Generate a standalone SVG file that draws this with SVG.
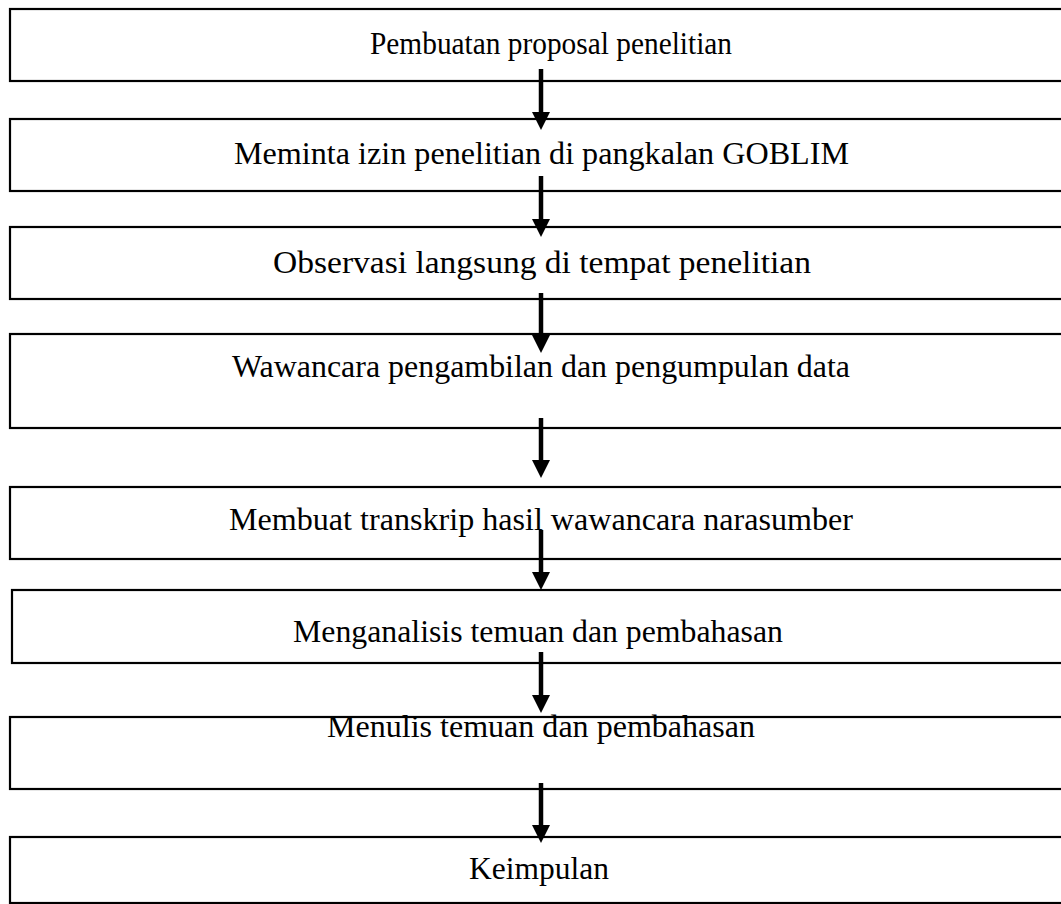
<svg xmlns="http://www.w3.org/2000/svg" width="1061" height="904" viewBox="0 0 1061 904">
<style>
.box{fill:#fff;stroke:#000;stroke-width:2.2}
.lbl{font-family:"Liberation Serif","Times New Roman",serif;font-size:32px;fill:#000;text-anchor:middle}
.arr{stroke:#000;stroke-width:4.5;fill:none}
.head{fill:#000}
</style>
<rect width="1061" height="904" fill="#fff"/>
<g id="n1"><rect class="box" x="10" y="9" width="1070" height="72"/><text class="lbl" x="551" y="54" textLength="362" lengthAdjust="spacingAndGlyphs">Pembuatan proposal penelitian</text></g>
<g id="n2"><rect class="box" x="10" y="119" width="1070" height="72"/><text class="lbl" x="541.5" y="164" textLength="615" lengthAdjust="spacingAndGlyphs">Meminta izin penelitian di pangkalan GOBLIM</text></g>
<g id="n3"><rect class="box" x="10" y="227" width="1070" height="72"/><text class="lbl" x="542" y="273" textLength="538" lengthAdjust="spacingAndGlyphs">Observasi langsung di tempat penelitian</text></g>
<g id="n4"><rect class="box" x="10" y="334" width="1070" height="94"/><text class="lbl" x="541" y="377" textLength="618" lengthAdjust="spacingAndGlyphs">Wawancara pengambilan dan pengumpulan data</text></g>
<g id="n5"><rect class="box" x="10" y="487" width="1070" height="72"/><text class="lbl" x="541" y="530" textLength="624" lengthAdjust="spacingAndGlyphs">Membuat transkrip hasil wawancara narasumber</text></g>
<g id="n6"><rect class="box" x="12" y="590" width="1070" height="73"/><text class="lbl" x="538" y="642" textLength="490" lengthAdjust="spacingAndGlyphs">Menganalisis temuan dan pembahasan</text></g>
<g id="n7"><rect class="box" x="10" y="717" width="1070" height="72"/><text class="lbl" x="541" y="737" textLength="428" lengthAdjust="spacingAndGlyphs">Menulis temuan dan pembahasan</text></g>
<g id="n8"><rect class="box" x="10" y="837" width="1070" height="66"/><text class="lbl" x="539" y="879" textLength="140" lengthAdjust="spacingAndGlyphs">Keimpulan</text></g>
<g id="connectors">
<line class="arr" x1="541" y1="69" x2="541" y2="114"/><polygon class="head" points="532,112 550,112 541,130"/>
<line class="arr" x1="541" y1="176" x2="541" y2="221"/><polygon class="head" points="532,219 550,219 541,237"/>
<line class="arr" x1="541" y1="293" x2="541" y2="337"/><polygon class="head" points="532,335 550,335 541,353"/>
<line class="arr" x1="541" y1="418" x2="541" y2="462"/><polygon class="head" points="532,460 550,460 541,478"/>
<line class="arr" x1="541" y1="530" x2="541" y2="574"/><polygon class="head" points="532,572 550,572 541,590"/>
<line class="arr" x1="541" y1="652" x2="541" y2="697"/><polygon class="head" points="532,695 550,695 541,713"/>
<line class="arr" x1="541" y1="783" x2="541" y2="827"/><polygon class="head" points="532,825 550,825 541,843"/>
</g>
</svg>
